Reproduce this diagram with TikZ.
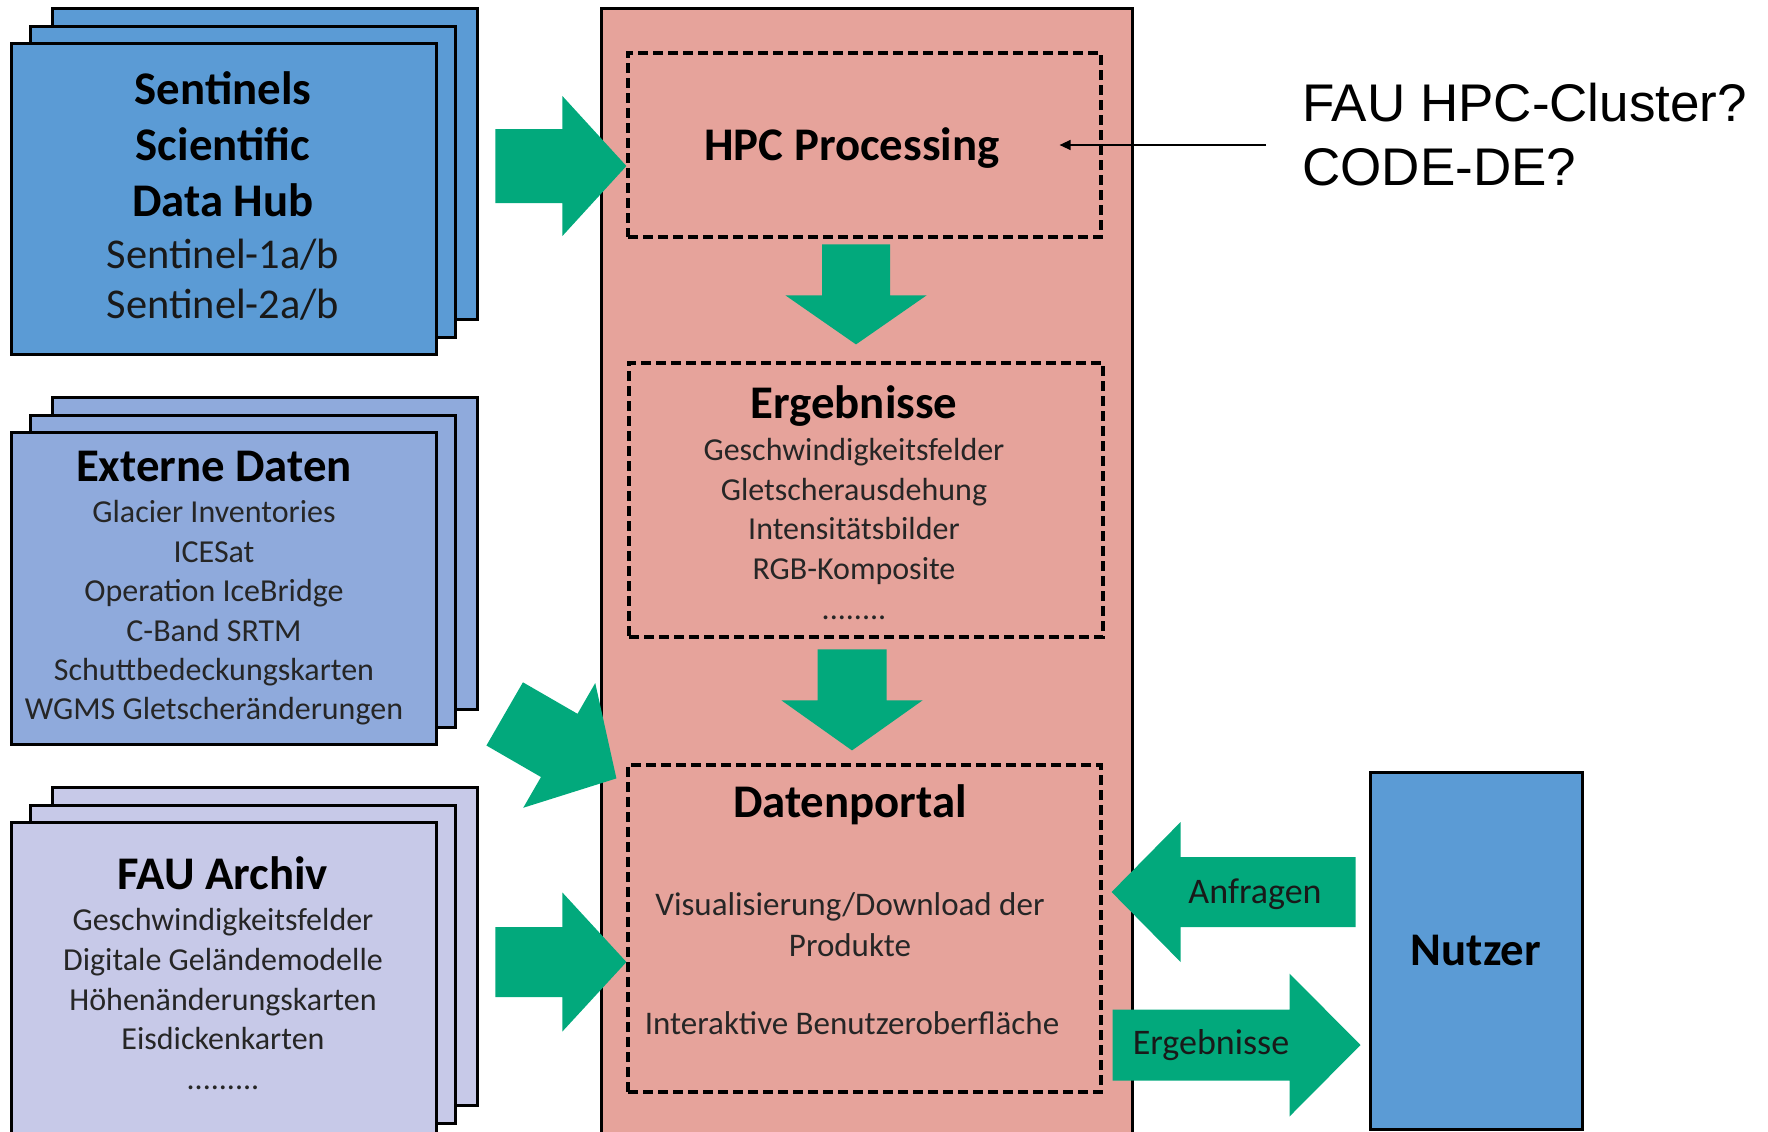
\documentclass[tikz,border=0pt]{standalone}
\usepackage{fontspec}
\setmainfont{Carlito}
\newfontfamily\notefont{Liberation Sans}
\usetikzlibrary{shadows,arrows.meta}
\definecolor{hubblue}{HTML}{5B9BD5}
\definecolor{extblue}{HTML}{8FAADC}
\definecolor{archlilac}{HTML}{C7C9E8}
\definecolor{platformrose}{HTML}{E6A39B}
\definecolor{flowgreen}{HTML}{02A97C}
\tikzset{
  flow arrow/.pic={
    \tikzset{/flowarrow/.cd, #1}
    \fill [flowgreen]
    (0,0) -- (-\arrowhead,\arrowspread) -- (-\arrowhead,\arrowwidth/2)
    -- (-\arrowhead-\arrowshaft,\arrowwidth/2) -- (-\arrowhead-\arrowshaft,-\arrowwidth/2)
    -- (-\arrowhead,-\arrowwidth/2) -- (-\arrowhead,-\arrowspread) -- cycle;
  },
  /flowarrow/.search also={/tikz},
  /flowarrow/.cd,
  shaft/.store in=\arrowshaft,
  head/.store in=\arrowhead,
  width/.store in=\arrowwidth,
  spread/.store in=\arrowspread,
  shaft=67,
  head=64,
  width=72,
  spread=70,
}

\begin{document}
\begin{tikzpicture}[x=0.5pt, y=-0.5pt,
  stackbox/.style={draw, line width=1.5pt, inner sep=0pt, minimum width=212.5pt,
    copy shadow={shadow xshift=20.5pt, shadow yshift=17.5pt},
    copy shadow={shadow xshift=9.5pt, shadow yshift=8.5pt}},
  dashbox/.style={draw, line width=1.6pt, dash pattern=on 5pt off 2.5pt, inner sep=0pt, minimum width=236.5pt},
  headline/.style={font=\fontsize{23.4}{28}\selectfont\bfseries, align=center, inner sep=0pt},
  satlist/.style={font=\fontsize{21.2}{25}\selectfont, text=black!90, align=center, inner sep=0pt},
  listtext/.style={font=\fontsize{16}{19.7}\selectfont, text=black!85, align=center, inner sep=0pt},
  portaltext/.style={font=\fontsize{16.5}{20.5}\selectfont, text=black!85, align=center, inner sep=0pt},
  flowlabel/.style={font=\fontsize{18}{22}\selectfont, text=black!90, inner sep=0pt},
  notetext/.style={font=\notefont\fontsize{26.5}{32}\selectfont, align=left, inner sep=0pt},
  thinarrow/.style={line width=0.7pt, -{Triangle[length=5.5pt,width=5pt]}},
]
\useasboundingbox (0,0) rectangle (1768,1131);

% data sources
\node[stackbox, fill=hubblue, minimum height=155.5pt] (hub) at (223.5,198.5) {};
\node[headline] (hubname) at (223,144) {Sentinels\\Scientific\\Data Hub};
\node[satlist] (hubsats) at (223,280) {Sentinel-1a/b\\Sentinel-2a/b};

\node[stackbox, fill=extblue, minimum height=156pt] (ext) at (223.5,588) {};
\node[headline, anchor=base] (extname) at (214,481) {Externe Daten};
\node[listtext] (extlist) at (214,613) {Glacier Inventories\\ICESat\\Operation IceBridge\\C-Band SRTM\\Schuttbedeckungskarten\\WGMS Gletscheränderungen};

\node[stackbox, fill=archlilac, minimum height=159pt] (arch) at (223.5,981) {};
\node[headline, anchor=base] (archname) at (223,889) {FAU Archiv};
\node[listtext, font=\fontsize{16}{19.9}\selectfont] (archlist) at (223,999) {Geschwindigkeitsfelder\\Digitale Geländemodelle\\Höhenänderungskarten\\Eisdickenkarten\\.........};

% processing platform
\node[draw, line width=1.5pt, fill=platformrose, minimum width=265.5pt, minimum height=566pt] (platform) at (866.5,574) {};

\node[dashbox, minimum height=92pt] (hpc) at (864.5,145) {};
\node[headline, anchor=base] (hpcname) at (852,160) {HPC Processing};

\node[dashbox, minimum width=237pt, minimum height=137pt] (erg) at (866,500) {};
\node[headline, anchor=base] (ergname) at (854,418) {Ergebnisse};
\node[listtext, font=\fontsize{16}{19.9}\selectfont] (erglist) at (854,529) {Geschwindigkeitsfelder\\Gletscherausdehung\\Intensitätsbilder\\RGB-Komposite\\........};

\node[dashbox, minimum height=163.5pt] (dp) at (864.5,928.5) {};
\node[headline, anchor=base] (dpname) at (850,817) {Datenportal};
\node[portaltext] (dpview) at (850,925) {Visualisierung/Download der\\Produkte};
\node[portaltext, anchor=base] (dpui) at (852,1034) {Interaktive Benutzeroberfläche};

% user
\node[draw, line width=1.5pt, fill=hubblue, minimum width=106pt, minimum height=178.5pt,
  font=\fontsize{23.4}{28}\selectfont\bfseries] (nutzer) at (1476,950.5) {Nutzer};

% cluster question
\node[notetext, anchor=west] (cluster) at (1302,135) {FAU HPC-Cluster?\\CODE-DE?};
\coordinate (clusterstart) at (1266,145);
\draw[thinarrow] (clusterstart) -- ([xshift=-21.5pt]hpc.east);

% flows
\pic at ([yshift=-10.5pt]hpc.west) {flow arrow={shaft=67, head=64, width=74, spread=70}};
\pic[rotate=-30] at ([xshift=-5pt,yshift=-7.5pt]dp.north west) {flow arrow={shaft=63, head=66, width=73, spread=72}};
\pic at ([yshift=-16.75pt]dp.west) {flow arrow={shaft=67, head=64, width=70, spread=69.5}};
\pic[rotate=-90] at ([xshift=-5pt,yshift=8.5pt]erg.north) {flow arrow={shaft=51, head=49, width=68, spread=70.5}};
\pic[rotate=-90] at ([xshift=-6.25pt,yshift=6.5pt]dp.north) {flow arrow={shaft=51, head=50, width=69, spread=70.5}};
\pic[rotate=180] at ([xshift=4.5pt,yshift=18.25pt]dp.east) {flow arrow={shaft=175, head=69, width=70, spread=70}};
\pic at ([xshift=-4pt,yshift=-47.25pt]nutzer.west) {flow arrow={shaft=177, head=71, width=71, spread=71.5}};

\node[flowlabel, anchor=base] (anfragen) at (1255,903.5) {Anfragen};
\node[flowlabel, anchor=base] (ergebnisse) at (1211,1054.5) {Ergebnisse};
\end{tikzpicture}
\end{document}
